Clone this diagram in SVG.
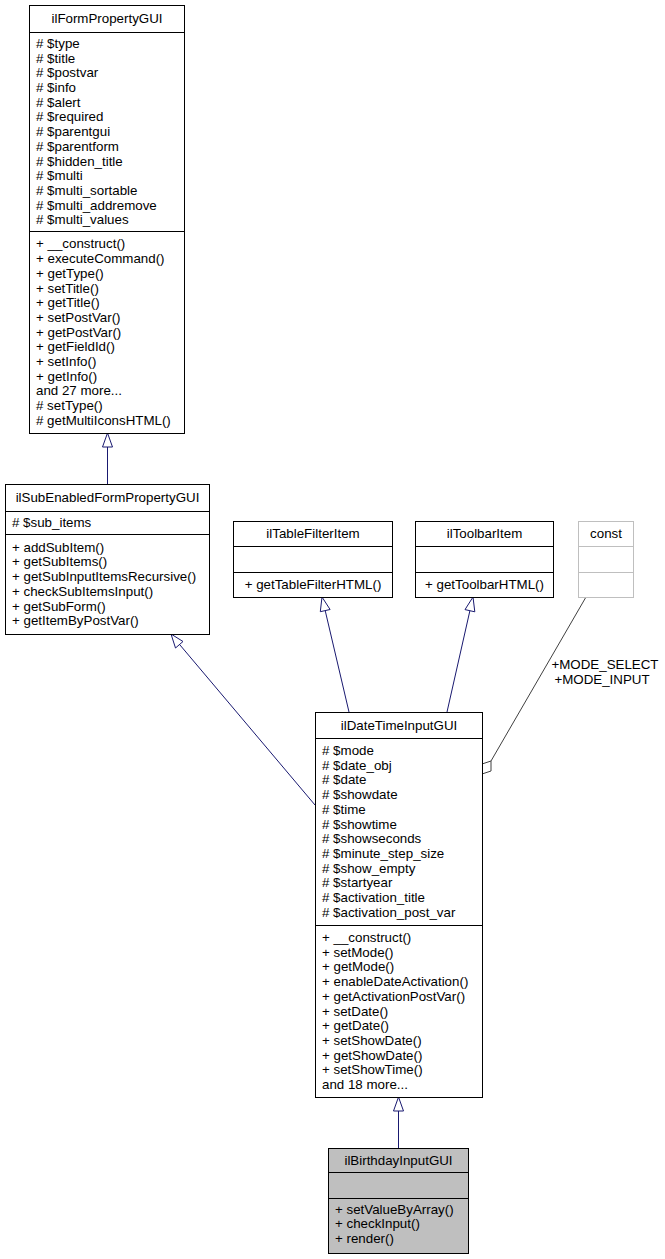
<svg xmlns="http://www.w3.org/2000/svg" width="665" height="1259" viewBox="0 0 665 1259">
<style>
text{font-family:"Liberation Sans",Arial,Helvetica,sans-serif;font-size:13.33px;fill:#000}
.c{text-anchor:middle}
.box{fill:#fff;stroke:#000;stroke-width:1}
.sep{stroke:#000;stroke-width:1}
.gbox{fill:#fff;stroke:#bfbfbf;stroke-width:1}
.gsep{stroke:#bfbfbf;stroke-width:1}
.edge{fill:none;stroke:#191970;stroke-width:1}
.head{fill:#fff;stroke:#191970;stroke-width:1}
.uedge{fill:none;stroke:#404040;stroke-width:1}
.uhead{fill:#fff;stroke:#404040;stroke-width:1}
</style>
<g id="connectors">
<path class="edge" d="M107.5,447 L107.5,484"/>
<polygon class="head" points="107.5,433 102.5,447 112.5,447"/>
<path class="edge" d="M315,805 L180,645"/>
<polygon class="head" points="171,634 175.5,648 183,641.5"/>
<path class="edge" d="M349,712 L325.2,610.6"/>
<polygon class="head" points="322,597 320.3,611.7 330.1,609.5"/>
<path class="edge" d="M447,712 L469.9,610.7"/>
<polygon class="head" points="473,597 474.8,611.8 465,609.6"/>
<path class="edge" d="M398.5,1111 L398.5,1148"/>
<polygon class="head" points="398.5,1097 393.5,1111 403.5,1111"/>
<path class="uedge" d="M586,597 L491,761"/>
<polygon class="uhead" points="482,764 491,761 491,771 482,774"/>
<text class="c" x="605" y="668.5">+MODE_SELECT</text>
<text class="c" x="602" y="683.5">+MODE_INPUT</text>
</g>
<g id="ilFormPropertyGUI">
<rect class="box" x="29.5" y="5.5" width="155" height="428"/>
<line class="sep" x1="29.5" y1="32.5" x2="184.5" y2="32.5"/>
<line class="sep" x1="29.5" y1="231.5" x2="184.5" y2="231.5"/>
<text class="c" x="107" y="23">ilFormPropertyGUI</text>
<text x="36" y="47.9"># $type</text>
<text x="36" y="62.6"># $title</text>
<text x="36" y="77.3"># $postvar</text>
<text x="36" y="92"># $info</text>
<text x="36" y="106.7"># $alert</text>
<text x="36" y="121.4"># $required</text>
<text x="36" y="136.1"># $parentgui</text>
<text x="36" y="150.8"># $parentform</text>
<text x="36" y="165.5"># $hidden_title</text>
<text x="36" y="180.2"># $multi</text>
<text x="36" y="194.9"># $multi_sortable</text>
<text x="36" y="209.6"># $multi_addremove</text>
<text x="36" y="224.3"># $multi_values</text>
<text x="36" y="248.4">+ __construct()</text>
<text x="36" y="263.1">+ executeCommand()</text>
<text x="36" y="277.8">+ getType()</text>
<text x="36" y="292.5">+ setTitle()</text>
<text x="36" y="307.2">+ getTitle()</text>
<text x="36" y="321.9">+ setPostVar()</text>
<text x="36" y="336.6">+ getPostVar()</text>
<text x="36" y="351.3">+ getFieldId()</text>
<text x="36" y="366">+ setInfo()</text>
<text x="36" y="380.7">+ getInfo()</text>
<text x="36" y="395.4">and 27 more...</text>
<text x="36" y="410.1"># setType()</text>
<text x="36" y="424.8"># getMultiIconsHTML()</text>
</g>
<g id="ilSubEnabledFormPropertyGUI">
<rect class="box" x="5.5" y="484.5" width="204" height="150"/>
<line class="sep" x1="5.5" y1="511.5" x2="209.5" y2="511.5"/>
<line class="sep" x1="5.5" y1="534.5" x2="209.5" y2="534.5"/>
<text class="c" x="107.5" y="502">ilSubEnabledFormPropertyGUI</text>
<text x="12" y="527"># $sub_items</text>
<text x="12" y="551.7">+ addSubItem()</text>
<text x="12" y="566.4">+ getSubItems()</text>
<text x="12" y="581.1">+ getSubInputItemsRecursive()</text>
<text x="12" y="595.8">+ checkSubItemsInput()</text>
<text x="12" y="610.5">+ getSubForm()</text>
<text x="12" y="625.2">+ getItemByPostVar()</text>
</g>
<g id="ilTableFilterItem">
<rect class="box" x="233.5" y="521.5" width="159" height="76"/>
<line class="sep" x1="233.5" y1="546.5" x2="392.5" y2="546.5"/>
<line class="sep" x1="233.5" y1="572.5" x2="392.5" y2="572.5"/>
<text class="c" x="313" y="538">ilTableFilterItem</text>
<text class="c" x="313" y="589">+ getTableFilterHTML()</text>
</g>
<g id="ilToolbarItem">
<rect class="box" x="415.5" y="521.5" width="138" height="76"/>
<line class="sep" x1="415.5" y1="546.5" x2="553.5" y2="546.5"/>
<line class="sep" x1="415.5" y1="572.5" x2="553.5" y2="572.5"/>
<text class="c" x="484.5" y="538">ilToolbarItem</text>
<text class="c" x="484.5" y="589">+ getToolbarHTML()</text>
</g>
<g id="const">
<rect class="gbox" x="578.5" y="521.5" width="55" height="76"/>
<line class="gsep" x1="578.5" y1="546.5" x2="633.5" y2="546.5"/>
<line class="gsep" x1="578.5" y1="572.5" x2="633.5" y2="572.5"/>
<text class="c" x="606" y="538">const</text>
</g>
<g id="ilDateTimeInputGUI">
<rect class="box" x="315.5" y="712.5" width="167" height="385"/>
<line class="sep" x1="315.5" y1="738.5" x2="482.5" y2="738.5"/>
<line class="sep" x1="315.5" y1="925.5" x2="482.5" y2="925.5"/>
<text class="c" x="399" y="729.5">ilDateTimeInputGUI</text>
<text x="322" y="755"># $mode</text>
<text x="322" y="769.7"># $date_obj</text>
<text x="322" y="784.4"># $date</text>
<text x="322" y="799.1"># $showdate</text>
<text x="322" y="813.8"># $time</text>
<text x="322" y="828.5"># $showtime</text>
<text x="322" y="843.2"># $showseconds</text>
<text x="322" y="857.9"># $minute_step_size</text>
<text x="322" y="872.6"># $show_empty</text>
<text x="322" y="887.3"># $startyear</text>
<text x="322" y="902"># $activation_title</text>
<text x="322" y="916.7"># $activation_post_var</text>
<text x="322" y="942">+ __construct()</text>
<text x="322" y="956.7">+ setMode()</text>
<text x="322" y="971.4">+ getMode()</text>
<text x="322" y="986.1">+ enableDateActivation()</text>
<text x="322" y="1000.8">+ getActivationPostVar()</text>
<text x="322" y="1015.5">+ setDate()</text>
<text x="322" y="1030.2">+ getDate()</text>
<text x="322" y="1044.9">+ setShowDate()</text>
<text x="322" y="1059.6">+ getShowDate()</text>
<text x="322" y="1074.3">+ setShowTime()</text>
<text x="322" y="1089">and 18 more...</text>
</g>
<g id="ilBirthdayInputGUI">
<rect class="box" x="328.5" y="1148.5" width="140" height="105" style="fill:#bfbfbf"/>
<line class="sep" x1="328.5" y1="1172.5" x2="468.5" y2="1172.5"/>
<line class="sep" x1="328.5" y1="1198.5" x2="468.5" y2="1198.5"/>
<text class="c" x="398.5" y="1164.5">ilBirthdayInputGUI</text>
<text x="335" y="1213.5">+ setValueByArray()</text>
<text x="335" y="1228.2">+ checkInput()</text>
<text x="335" y="1242.9">+ render()</text>
</g>
</svg>
